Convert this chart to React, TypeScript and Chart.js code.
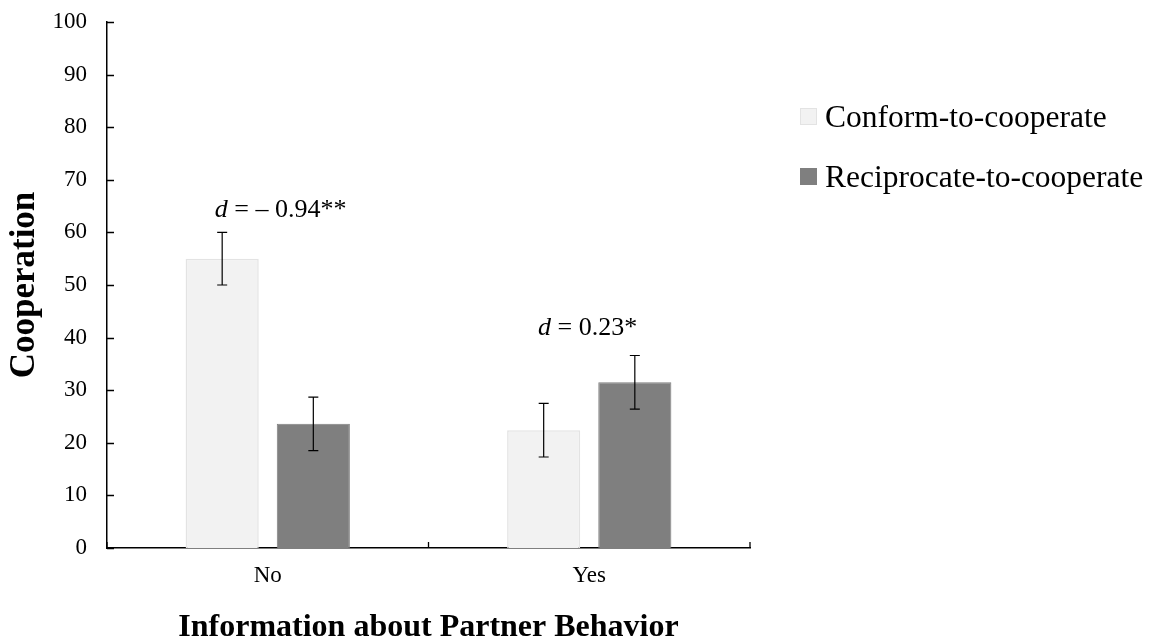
import React, { useEffect, useRef } from "react";
import { Chart, registerables } from "chart.js";

Chart.register(...registerables);

// ---- data ----
const categories = ["No", "Yes"];
const seriesNames = ["Conform-to-cooperate", "Reciprocate-to-cooperate"];
const conformValues = [55.0, 22.4];
const reciprocateValues = [23.6, 31.5];
const conformErrors = [5.0, 5.1];
const reciprocateErrors = [5.1, 5.1];
const annotationItalic = ["d", "d"];
const annotationRest = [" = \u2013 0.94**", " = 0.23*"];
// annotation anchor in data coordinates (category index, value)
const annotationX = [0.04, 0.995];
const annotationY = [63, 40.5];
const yMin = 0;
const yMax = 100;
const yStep = 10;
const xTitle = "Information about Partner Behavior";
const yTitle = "Cooperation";

const FONT = "'Liberation Serif', 'Times New Roman', serif";
const fills = ["#f2f2f2", "#7f7f7f"];
const borders = ["#e3e3e3", "#7f7f7f"];
const errors = [conformErrors, reciprocateErrors];

const errorBarPlugin = {
  id: "errorBars",
  afterDatasetsDraw(chart: any) {
    const { ctx } = chart;
    const y = chart.scales.y;
    ctx.save();
    ctx.strokeStyle = "#000";
    ctx.lineWidth = 1.2;
    chart.data.datasets.forEach((ds: any, i: number) => {
      const meta = chart.getDatasetMeta(i);
      meta.data.forEach((el: any, j: number) => {
        const v = ds.data[j];
        const e = errors[i][j];
        const yt = y.getPixelForValue(v + e);
        const yb = y.getPixelForValue(v - e);
        const x = el.x;
        const cap = 5;
        ctx.beginPath();
        ctx.moveTo(x, yt);
        ctx.lineTo(x, yb);
        ctx.moveTo(x - cap, yt);
        ctx.lineTo(x + cap, yt);
        ctx.moveTo(x - cap, yb);
        ctx.lineTo(x + cap, yb);
        ctx.stroke();
      });
    });
    ctx.restore();
  },
};

const annotationPlugin = {
  id: "annotations",
  afterDatasetsDraw(chart: any) {
    const { ctx } = chart;
    const x = chart.scales.x;
    const y = chart.scales.y;
    const size = 26;
    ctx.save();
    ctx.fillStyle = "#000";
    ctx.textBaseline = "alphabetic";
    ctx.textAlign = "left";
    categories.forEach((_, i) => {
      const cx = x.getPixelForValue(annotationX[i]);
      const cy = y.getPixelForValue(annotationY[i]);
      ctx.font = `italic ${size}px ${FONT}`;
      const w1 = ctx.measureText(annotationItalic[i]).width;
      ctx.font = `${size}px ${FONT}`;
      const w2 = ctx.measureText(annotationRest[i]).width;
      const start = cx - (w1 + w2) / 2;
      ctx.font = `italic ${size}px ${FONT}`;
      ctx.fillText(annotationItalic[i], start, cy);
      ctx.font = `${size}px ${FONT}`;
      ctx.fillText(annotationRest[i], start + w1, cy);
    });
    ctx.restore();
  },
};

const insideTicksPlugin = {
  id: "insideTicks",
  afterDraw(chart: any) {
    const { ctx, chartArea } = chart;
    const y = chart.scales.y;
    ctx.save();
    ctx.strokeStyle = "#000";
    ctx.lineWidth = 1.3;
    ctx.beginPath();
    for (let v = yMin; v <= yMax; v += yStep) {
      const py = Math.round(y.getPixelForValue(v)) + 0.5;
      ctx.moveTo(chartArea.left, py);
      ctx.lineTo(chartArea.left + 7, py);
    }
    const n = categories.length;
    for (let i = 0; i <= n; i++) {
      const px = chartArea.left + ((chartArea.right - chartArea.left) * i) / n;
      ctx.moveTo(px, chartArea.bottom);
      ctx.lineTo(px, chartArea.bottom - 6);
    }
    ctx.stroke();
    ctx.restore();
  },
};

const legendPlugin = {
  id: "customLegend",
  afterDraw(chart: any) {
    const { ctx, chartArea } = chart;
    ctx.save();
    const x0 = chartArea.right + 50;
    const baselines = [127, 187];
    seriesNames.forEach((name, i) => {
      const b = baselines[i];
      ctx.fillStyle = fills[i];
      ctx.fillRect(x0, b - 19, 17, 17);
      ctx.strokeStyle = borders[i];
      ctx.lineWidth = 1;
      ctx.strokeRect(x0 + 0.5, b - 18.5, 16, 16);
      ctx.fillStyle = "#000";
      ctx.font = `31.5px ${FONT}`;
      ctx.textAlign = "left";
      ctx.textBaseline = "alphabetic";
      ctx.fillText(name, x0 + 25, b);
    });
    ctx.restore();
  },
};

export default function App() {
  const ref = useRef<HTMLCanvasElement>(null);
  useEffect(() => {
    if (!ref.current) return;
    const chart = new Chart(ref.current, {
      type: "bar",
      data: {
        labels: categories,
        datasets: [
          {
            label: seriesNames[0],
            data: conformValues,
            backgroundColor: fills[0],
            borderColor: borders[0],
            borderWidth: 1.5,
          },
          {
            label: seriesNames[1],
            data: reciprocateValues,
            backgroundColor: fills[1],
            borderColor: borders[1],
            borderWidth: 1,
          },
        ],
      },
      options: {
        animation: false,
        responsive: true,
        maintainAspectRatio: false,
        datasets: {
          bar: { categoryPercentage: 0.567, barPercentage: 0.802 },
        },
        layout: { padding: { top: 22, right: 405, left: 0, bottom: 0 } },
        plugins: {
          legend: { display: false },
          tooltip: { enabled: false },
        },
        scales: {
          x: {
            grid: { display: false, drawTicks: false },
            border: { display: true, color: "#000", width: 1.5 },
            ticks: {
              color: "#000",
              padding: 14,
              font: { family: FONT, size: 23 },
            },
            title: {
              display: true,
              text: xTitle,
              color: "#000",
              font: { family: FONT, size: 32, weight: "bold", lineHeight: 1 },
              padding: { top: 0, bottom: 0 },
            },
            afterFit(scale: any) {
              scale.height = 96;
              scale.paddingLeft = 0;
              scale.paddingRight = 0;
            },
          },
          y: {
            min: yMin,
            max: yMax,
            grid: { display: false, drawTicks: false },
            border: { display: true, color: "#000", width: 1.5 },
            ticks: {
              stepSize: yStep,
              color: "#000",
              padding: 20,
              font: { family: FONT, size: 23 },
            },
            title: {
              display: true,
              text: yTitle,
              color: "#000",
              font: { family: FONT, size: 35, weight: "bold", lineHeight: 1 },
              padding: { top: 7, bottom: 0 },
            },
            afterFit(scale: any) {
              scale.width = 107;
              scale.paddingTop = 0;
              scale.paddingBottom = 0;
            },
          },
        },
      },
      plugins: [errorBarPlugin, annotationPlugin, insideTicksPlugin, legendPlugin],
    });
    return () => chart.destroy();
  }, []);

  return (
    <div
      style={{
        position: "fixed",
        left: 0,
        top: 0,
        width: 1155,
        height: 644,
        background: "#fff",
      }}
    >
      <canvas ref={ref} />
    </div>
  );
}
